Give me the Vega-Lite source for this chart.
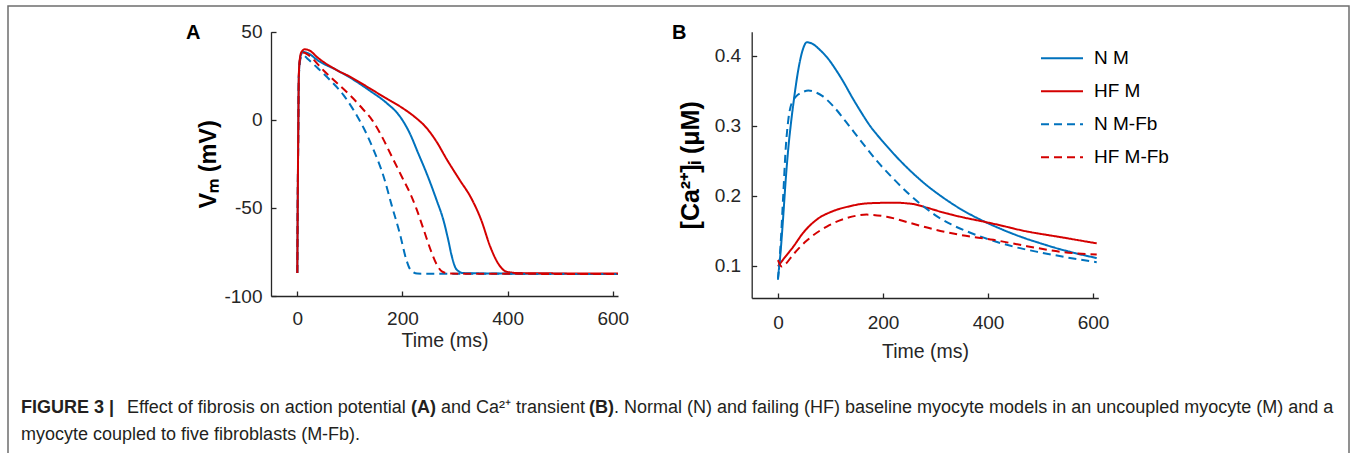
{
  "$schema": "https://vega.github.io/schema/vega-lite/v6.json",
  "background": "white",
  "autosize": {"type": "none"},
  "width": 1341,
  "height": 460,
  "padding": {"left": 8, "top": 6, "right": 9, "bottom": 0},
  "view": {"stroke": "#6e6e6e", "strokeWidth": 1.5},
  "config": {
    "font": "Liberation Sans",
    "axis": {
      "grid": false,
      "domainColor": "#262626",
      "domainWidth": 1.3,
      "tickColor": "#262626",
      "tickWidth": 1.3,
      "tickSize": -5,
      "labelColor": "#262626",
      "labelFont": "Liberation Sans",
      "labelFontSize": 19,
      "labelPadding": 13,
      "titleFont": "Liberation Sans",
      "titleColor": "#262626",
      "titleFontSize": 19.5,
      "titleFontWeight": "normal"
    }
  },
  "datasets": {
    "ap": [
      {"t": 0, "v": -87, "s": "N M"}, {"t": 1.5, "v": -20, "s": "N M"}, {"t": 3, "v": 25, "s": "N M"}, {"t": 5, "v": 34, "s": "N M"}, {"t": 8, "v": 37.5, "s": "N M"}, {"t": 12, "v": 38.5, "s": "N M"}, {"t": 20, "v": 37.8, "s": "N M"}, {"t": 40, "v": 33.5, "s": "N M"}, {"t": 75, "v": 28.2, "s": "N M"}, {"t": 100, "v": 24, "s": "N M"}, {"t": 138, "v": 16.5, "s": "N M"}, {"t": 170, "v": 9.5, "s": "N M"}, {"t": 195, "v": 2, "s": "N M"}, {"t": 214, "v": -7.7, "s": "N M"}, {"t": 230, "v": -19, "s": "N M"}, {"t": 246, "v": -30.4, "s": "N M"}, {"t": 265, "v": -45.6, "s": "N M"}, {"t": 278, "v": -57, "s": "N M"}, {"t": 287, "v": -68, "s": "N M"}, {"t": 294, "v": -77.6, "s": "N M"}, {"t": 303, "v": -85, "s": "N M"}, {"t": 316, "v": -87, "s": "N M"}, {"t": 400, "v": -87.3, "s": "N M"}, {"t": 610, "v": -87.5, "s": "N M"},
      {"t": 0, "v": -87, "s": "HF M"}, {"t": 1.5, "v": -20, "s": "HF M"}, {"t": 3, "v": 26, "s": "HF M"}, {"t": 5, "v": 35, "s": "HF M"}, {"t": 8, "v": 38.5, "s": "HF M"}, {"t": 14, "v": 40, "s": "HF M"}, {"t": 22, "v": 39.5, "s": "HF M"}, {"t": 40, "v": 35, "s": "HF M"}, {"t": 75, "v": 28.2, "s": "HF M"}, {"t": 100, "v": 24.5, "s": "HF M"}, {"t": 138, "v": 17.8, "s": "HF M"}, {"t": 170, "v": 12, "s": "HF M"}, {"t": 201, "v": 6.5, "s": "HF M"}, {"t": 224, "v": 1.5, "s": "HF M"}, {"t": 244, "v": -4, "s": "HF M"}, {"t": 264, "v": -12, "s": "HF M"}, {"t": 284, "v": -22.3, "s": "HF M"}, {"t": 309, "v": -34.2, "s": "HF M"}, {"t": 330, "v": -44, "s": "HF M"}, {"t": 350, "v": -57, "s": "HF M"}, {"t": 367, "v": -72, "s": "HF M"}, {"t": 382, "v": -81.5, "s": "HF M"}, {"t": 398, "v": -86.2, "s": "HF M"}, {"t": 423, "v": -87, "s": "HF M"}, {"t": 610, "v": -87.3, "s": "HF M"},
      {"t": 0, "v": -87, "s": "N M-Fb"}, {"t": 1.5, "v": -20, "s": "N M-Fb"}, {"t": 3, "v": 24, "s": "N M-Fb"}, {"t": 5, "v": 33, "s": "N M-Fb"}, {"t": 8, "v": 36, "s": "N M-Fb"}, {"t": 12, "v": 36.5, "s": "N M-Fb"}, {"t": 20, "v": 34.5, "s": "N M-Fb"}, {"t": 40, "v": 29, "s": "N M-Fb"}, {"t": 62, "v": 22.6, "s": "N M-Fb"}, {"t": 88, "v": 14, "s": "N M-Fb"}, {"t": 105, "v": 6.5, "s": "N M-Fb"}, {"t": 114, "v": 2, "s": "N M-Fb"}, {"t": 126, "v": -4.5, "s": "N M-Fb"}, {"t": 145, "v": -17, "s": "N M-Fb"}, {"t": 164, "v": -32, "s": "N M-Fb"}, {"t": 180, "v": -49, "s": "N M-Fb"}, {"t": 195, "v": -64.5, "s": "N M-Fb"}, {"t": 207, "v": -79, "s": "N M-Fb"}, {"t": 215, "v": -85, "s": "N M-Fb"}, {"t": 228, "v": -87.3, "s": "N M-Fb"}, {"t": 610, "v": -87.5, "s": "N M-Fb"},
      {"t": 0, "v": -87, "s": "HF M-Fb"}, {"t": 1.5, "v": -20, "s": "HF M-Fb"}, {"t": 3, "v": 25, "s": "HF M-Fb"}, {"t": 5, "v": 34, "s": "HF M-Fb"}, {"t": 8, "v": 37, "s": "HF M-Fb"}, {"t": 13, "v": 38, "s": "HF M-Fb"}, {"t": 20, "v": 37, "s": "HF M-Fb"}, {"t": 50, "v": 28, "s": "HF M-Fb"}, {"t": 75, "v": 21, "s": "HF M-Fb"}, {"t": 100, "v": 14, "s": "HF M-Fb"}, {"t": 125, "v": 6, "s": "HF M-Fb"}, {"t": 142, "v": 0, "s": "HF M-Fb"}, {"t": 160, "v": -9, "s": "HF M-Fb"}, {"t": 180, "v": -21, "s": "HF M-Fb"}, {"t": 200, "v": -33, "s": "HF M-Fb"}, {"t": 215, "v": -42, "s": "HF M-Fb"}, {"t": 226, "v": -50, "s": "HF M-Fb"}, {"t": 240, "v": -62, "s": "HF M-Fb"}, {"t": 255, "v": -75, "s": "HF M-Fb"}, {"t": 265, "v": -82, "s": "HF M-Fb"}, {"t": 275, "v": -86, "s": "HF M-Fb"}, {"t": 290, "v": -87.3, "s": "HF M-Fb"}, {"t": 610, "v": -87.5, "s": "HF M-Fb"}
    ],
    "ca": [
      {"t": 0, "c": 0.082, "s": "N M"}, {"t": 5, "c": 0.12, "s": "N M"}, {"t": 10, "c": 0.17, "s": "N M"}, {"t": 15, "c": 0.225, "s": "N M"}, {"t": 20, "c": 0.27, "s": "N M"}, {"t": 25, "c": 0.305, "s": "N M"}, {"t": 30, "c": 0.335, "s": "N M"}, {"t": 40, "c": 0.385, "s": "N M"}, {"t": 48, "c": 0.41, "s": "N M"}, {"t": 55, "c": 0.419, "s": "N M"}, {"t": 65, "c": 0.417, "s": "N M"}, {"t": 80, "c": 0.408, "s": "N M"}, {"t": 95, "c": 0.396, "s": "N M"}, {"t": 110, "c": 0.38, "s": "N M"}, {"t": 125, "c": 0.362, "s": "N M"}, {"t": 140, "c": 0.342, "s": "N M"}, {"t": 156, "c": 0.322, "s": "N M"}, {"t": 175, "c": 0.3, "s": "N M"}, {"t": 200, "c": 0.277, "s": "N M"}, {"t": 225, "c": 0.256, "s": "N M"}, {"t": 250, "c": 0.237, "s": "N M"}, {"t": 283, "c": 0.215, "s": "N M"}, {"t": 315, "c": 0.197, "s": "N M"}, {"t": 350, "c": 0.18, "s": "N M"}, {"t": 385, "c": 0.166, "s": "N M"}, {"t": 420, "c": 0.154, "s": "N M"}, {"t": 460, "c": 0.142, "s": "N M"}, {"t": 500, "c": 0.132, "s": "N M"}, {"t": 550, "c": 0.121, "s": "N M"}, {"t": 607, "c": 0.111, "s": "N M"},
      {"t": 0, "c": 0.099, "s": "HF M"}, {"t": 10, "c": 0.109, "s": "HF M"}, {"t": 29, "c": 0.127, "s": "HF M"}, {"t": 48, "c": 0.147, "s": "HF M"}, {"t": 74, "c": 0.166, "s": "HF M"}, {"t": 105, "c": 0.178, "s": "HF M"}, {"t": 137, "c": 0.185, "s": "HF M"}, {"t": 169, "c": 0.189, "s": "HF M"}, {"t": 220, "c": 0.19, "s": "HF M"}, {"t": 258, "c": 0.188, "s": "HF M"}, {"t": 283, "c": 0.183, "s": "HF M"}, {"t": 315, "c": 0.176, "s": "HF M"}, {"t": 347, "c": 0.17, "s": "HF M"}, {"t": 385, "c": 0.164, "s": "HF M"}, {"t": 410, "c": 0.16, "s": "HF M"}, {"t": 474, "c": 0.149, "s": "HF M"}, {"t": 537, "c": 0.141, "s": "HF M"}, {"t": 607, "c": 0.132, "s": "HF M"},
      {"t": 0, "c": 0.08, "s": "N M-Fb"}, {"t": 5, "c": 0.13, "s": "N M-Fb"}, {"t": 10, "c": 0.2, "s": "N M-Fb"}, {"t": 15, "c": 0.27, "s": "N M-Fb"}, {"t": 20, "c": 0.31, "s": "N M-Fb"}, {"t": 26, "c": 0.332, "s": "N M-Fb"}, {"t": 35, "c": 0.342, "s": "N M-Fb"}, {"t": 45, "c": 0.347, "s": "N M-Fb"}, {"t": 58, "c": 0.35, "s": "N M-Fb"}, {"t": 70, "c": 0.348, "s": "N M-Fb"}, {"t": 85, "c": 0.342, "s": "N M-Fb"}, {"t": 105, "c": 0.328, "s": "N M-Fb"}, {"t": 130, "c": 0.305, "s": "N M-Fb"}, {"t": 156, "c": 0.28, "s": "N M-Fb"}, {"t": 188, "c": 0.25, "s": "N M-Fb"}, {"t": 220, "c": 0.224, "s": "N M-Fb"}, {"t": 250, "c": 0.202, "s": "N M-Fb"}, {"t": 275, "c": 0.186, "s": "N M-Fb"}, {"t": 300, "c": 0.172, "s": "N M-Fb"}, {"t": 330, "c": 0.159, "s": "N M-Fb"}, {"t": 360, "c": 0.149, "s": "N M-Fb"}, {"t": 400, "c": 0.138, "s": "N M-Fb"}, {"t": 450, "c": 0.127, "s": "N M-Fb"}, {"t": 500, "c": 0.119, "s": "N M-Fb"}, {"t": 550, "c": 0.112, "s": "N M-Fb"}, {"t": 607, "c": 0.105, "s": "N M-Fb"},
      {"t": 0, "c": 0.108, "s": "HF M-Fb"}, {"t": 7, "c": 0.099, "s": "HF M-Fb"}, {"t": 15, "c": 0.103, "s": "HF M-Fb"}, {"t": 29, "c": 0.116, "s": "HF M-Fb"}, {"t": 55, "c": 0.136, "s": "HF M-Fb"}, {"t": 93, "c": 0.156, "s": "HF M-Fb"}, {"t": 131, "c": 0.168, "s": "HF M-Fb"}, {"t": 169, "c": 0.173, "s": "HF M-Fb"}, {"t": 207, "c": 0.17, "s": "HF M-Fb"}, {"t": 252, "c": 0.161, "s": "HF M-Fb"}, {"t": 302, "c": 0.151, "s": "HF M-Fb"}, {"t": 347, "c": 0.144, "s": "HF M-Fb"}, {"t": 410, "c": 0.137, "s": "HF M-Fb"}, {"t": 474, "c": 0.128, "s": "HF M-Fb"}, {"t": 537, "c": 0.12, "s": "HF M-Fb"}, {"t": 607, "c": 0.116, "s": "HF M-Fb"}
    ]
  },
  "resolve": {
    "scale": {"x": "independent", "y": "independent", "color": "independent", "strokeDash": "independent"},
    "axis": {"x": "independent", "y": "independent"},
    "legend": {"color": "independent", "strokeDash": "independent"}
  },
  "layer": [
    {
      "layer": [
        {
          "data": {"name": "ap"},
          "mark": {"type": "line", "interpolate": "monotone", "strokeWidth": 2},
          "encoding": {
            "x": {"field": "t", "type": "quantitative", "scale": {"domain": [-50, 610], "range": [263, 610], "nice": false, "zero": false}, "axis": {"orient": "bottom", "offset": -170, "values": [0, 200, 400, 600], "labelPadding": 18, "title": "Time (ms)", "titlePadding": 3}},
            "y": {"field": "v", "type": "quantitative", "scale": {"domain": [-100, 50], "range": [290, 25.7], "nice": false, "zero": false}, "axis": {"orient": "left", "offset": -263, "values": [-100, -50, 0, 50], "labelPadding": 14, "labelExpr": "replace(datum.label, '−', '-')", "title": "Vₘ (mV)", "titleFontWeight": "bold", "titleFontSize": 23.5, "titleColor": "#000000", "titlePadding": 3}},
            "color": {"field": "s", "type": "nominal", "scale": {"domain": ["N M", "HF M", "N M-Fb", "HF M-Fb"], "range": ["#0072bd", "#d40000", "#0072bd", "#d40000"]}, "legend": null},
            "strokeDash": {"field": "s", "type": "nominal", "scale": {"domain": ["N M", "HF M", "N M-Fb", "HF M-Fb"], "range": [[1, 0], [1, 0], [8, 5], [8, 5]]}, "legend": null}
          }
        },
        {
          "data": {"values": [{"lab": "A", "t": -211.7, "v": 49.3}]},
          "mark": {"type": "text", "align": "left", "baseline": "middle", "fontSize": 20, "fontWeight": "bold", "font": "Liberation Sans", "color": "#000000"},
          "encoding": {
            "x": {"field": "t", "type": "quantitative", "scale": {"domain": [-50, 610], "range": [263, 610], "nice": false, "zero": false}},
            "y": {"field": "v", "type": "quantitative", "scale": {"domain": [-100, 50], "range": [290, 25.7], "nice": false, "zero": false}},
            "text": {"field": "lab"}
          }
        }
      ]
    },
    {
      "layer": [
        {
          "data": {"name": "ca"},
          "mark": {"type": "line", "interpolate": "monotone", "strokeWidth": 2},
          "encoding": {
            "x": {"field": "t", "type": "quantitative", "scale": {"domain": [-50, 610], "range": [743.7, 1090.3], "nice": false, "zero": false}, "axis": {"orient": "bottom", "offset": -168, "values": [0, 200, 400, 600], "labelPadding": 20, "title": "Time (ms)", "titlePadding": 10}},
            "y": {"field": "c", "type": "quantitative", "scale": {"domain": [0.054, 0.434], "range": [292, 25.7], "nice": false, "zero": false}, "axis": {"orient": "left", "offset": -743.7, "values": [0.1, 0.2, 0.3, 0.4], "format": ".1f", "labelPadding": 16, "title": "[Ca²⁺]ᵢ (μM)", "titleFontWeight": "bold", "titleFontSize": 25, "titleColor": "#000000", "titlePadding": 11}},
            "color": {"field": "s", "type": "nominal", "scale": {"domain": ["N M", "HF M", "N M-Fb", "HF M-Fb"], "range": ["#0072bd", "#d40000", "#0072bd", "#d40000"]},
              "legend": {"orient": "none", "legendX": 1032, "legendY": 36, "title": null, "symbolType": "stroke", "symbolSize": 1764, "symbolStrokeWidth": 2, "labelFontSize": 19, "labelFont": "Liberation Sans", "labelColor": "#000000", "clipHeight": 32.5, "rowPadding": 0, "labelOffset": 10, "padding": 0}},
            "strokeDash": {"field": "s", "type": "nominal", "scale": {"domain": ["N M", "HF M", "N M-Fb", "HF M-Fb"], "range": [[1, 0], [1, 0], [8, 5], [8, 5]]},
              "legend": {"orient": "none", "legendX": 1032, "legendY": 36, "title": null, "symbolType": "stroke", "symbolSize": 1764, "symbolStrokeWidth": 2, "labelFontSize": 19, "labelFont": "Liberation Sans", "labelColor": "#000000", "clipHeight": 32.5, "rowPadding": 0, "labelOffset": 10, "padding": 0}}
          }
        },
        {
          "data": {"values": [{"lab": "B", "t": -201.7, "c": 0.432}]},
          "mark": {"type": "text", "align": "left", "baseline": "middle", "fontSize": 20, "fontWeight": "bold", "font": "Liberation Sans", "color": "#000000"},
          "encoding": {
            "x": {"field": "t", "type": "quantitative", "scale": {"domain": [-50, 610], "range": [743.7, 1090.3], "nice": false, "zero": false}},
            "y": {"field": "c", "type": "quantitative", "scale": {"domain": [0.054, 0.434], "range": [292, 25.7], "nice": false, "zero": false}},
            "text": {"field": "lab"}
          }
        }
      ]
    },
    {
      "data": {"values": [
        {"line": 1, "x": 13, "w": "bold", "text": "FIGURE 3 |"},
        {"line": 1, "x": 119, "w": "normal", "text": "Effect of fibrosis on action potential"},
        {"line": 1, "x": 403, "w": "bold", "text": "(A)"},
        {"line": 1, "x": 433, "w": "normal", "text": "and Ca²⁺ transient"},
        {"line": 1, "x": 581, "w": "bold", "text": "(B)"},
        {"line": 1, "x": 606, "w": "normal", "text": ". Normal (N) and failing (HF) baseline myocyte models in an uncoupled myocyte (M) and a"},
        {"line": 2, "x": 13, "w": "normal", "text": "myocyte coupled to five fibroblasts (M-Fb)."}
      ]},
      "layer": [
        {
          "transform": [{"filter": "datum.w == 'bold'"}],
          "mark": {"type": "text", "align": "left", "baseline": "alphabetic", "fontSize": 18, "fontWeight": "bold", "font": "Liberation Sans", "color": "#231f20"},
          "encoding": {
            "text": {"field": "text"},
            "x": {"field": "x", "type": "quantitative", "axis": null, "scale": {"domain": [0, 1341], "range": [0, 1341], "nice": false, "zero": false}},
            "y": {"field": "line", "type": "ordinal", "axis": null, "scale": {"type": "point", "padding": 0, "domain": [1, 2], "range": [407, 434]}}
          }
        },
        {
          "transform": [{"filter": "datum.w == 'normal'"}],
          "mark": {"type": "text", "align": "left", "baseline": "alphabetic", "fontSize": 18, "font": "Liberation Sans", "color": "#231f20"},
          "encoding": {
            "text": {"field": "text"},
            "x": {"field": "x", "type": "quantitative", "axis": null, "scale": {"domain": [0, 1341], "range": [0, 1341], "nice": false, "zero": false}},
            "y": {"field": "line", "type": "ordinal", "axis": null, "scale": {"type": "point", "padding": 0, "domain": [1, 2], "range": [407, 434]}}
          }
        }
      ]
    }
  ]
}
